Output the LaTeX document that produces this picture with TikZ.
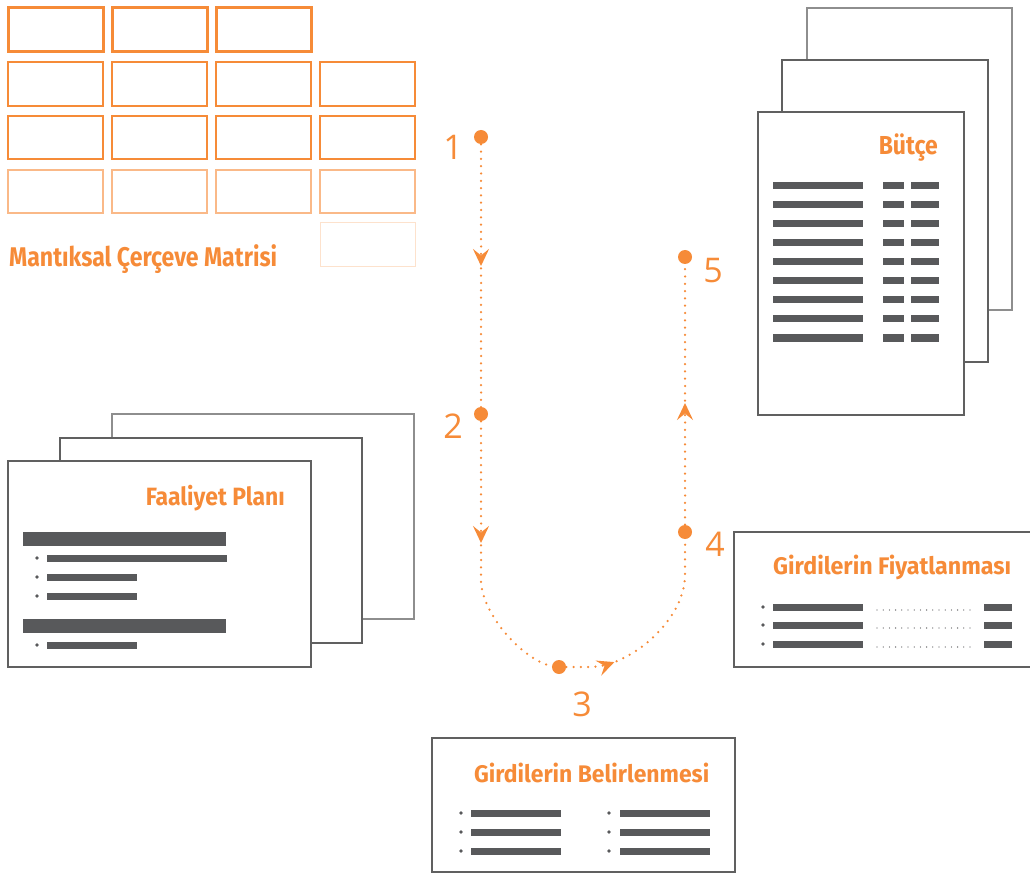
\documentclass[tikz,border=0pt]{standalone}
\usepackage{fontspec}
\setmainfont{Fira Sans}
\newfontfamily\numfont{Open Sans}
\usetikzlibrary{arrows.meta,decorations.markings}

\definecolor{accent}{HTML}{F68B38}
\definecolor{ink}{HTML}{58595B}
\definecolor{frame}{HTML}{606060}
\definecolor{framelight}{HTML}{8E8E8E}

% set a text at its natural height, squeezed horizontally to a given width (pt)
\newsavebox\fitbox
\newlength\fitlen
\newcommand\fitwidth[2]{\sbox\fitbox{#2}\setlength\fitlen{\wd\fitbox}%
  \pgfmathsetmacro\fitratio{#1/\fitlen}\scalebox{\fitratio}[1]{\usebox\fitbox}}

\tikzset{
  cellA/.style={draw=accent, line width=3pt},
  cellB/.style={draw=accent, line width=2.4pt},
  cellC/.style={draw=accent, line width=1.5pt},
  cellD/.style={draw=accent, draw opacity=.6, line width=1.2pt},
  cellE/.style={draw=accent, draw opacity=.25, line width=1pt},
  pagefront/.style={draw=frame, fill=white, line width=2.6pt},
  pagemid/.style={draw=frame, fill=white, line width=1.8pt},
  pageback/.style={draw=framelight, fill=white, line width=1.2pt},
  title/.style={text=accent, inner sep=0pt, font=\bfseries},
  stepnum/.style={text=accent, inner sep=0pt, font=\numfont\fontsize{34}{34}\selectfont},
  stepdot/.style={circle, fill=accent, inner sep=0pt, minimum size=14pt},
  flow/.style={draw=accent, line width=2.5pt, line cap=round, dash pattern=on 0pt off 7.3pt},
  flowtip/.style={postaction={decorate, decoration={markings,
      mark=at position #1 with {\arrow[accent, solid]{Stealth[length=17pt,width=16pt,inset=6.5pt]}}}}},
  leader/.style={draw=ink, line width=1.3pt, line cap=round, dash pattern=on 0pt off 6.2pt},
}

\newcommand\inkbar[3]{\fill[ink] (#1,#3-3.5) rectangle (#2,#3+3.5);}
\newcommand\inkdot[2]{\fill[ink] (#1,#2) circle (1.8);}

\begin{document}
\begin{tikzpicture}[x=1pt,y=-1pt]
\useasboundingbox (0,0) rectangle (1030,874);

% ---------- logical framework matrix ----------
\foreach \x in {8,112,216} \draw[cellA] (\x,8) rectangle ++(95,44);
\foreach \x in {8,112,216,320} \draw[cellB] (\x,62) rectangle ++(95,44);
\foreach \x in {8,112,216,320} \draw[cellC] (\x,116) rectangle ++(95,43);
\foreach \x in {8,112,216,320} \draw[cellD] (\x,170) rectangle ++(95,43);
\draw[cellE] (320,223) rectangle ++(95,44);
\node[title, anchor=base west] (mcm) at (9,267)
  {\fontsize{27}{27}\selectfont\fitwidth{268}{Mantıksal Çerçeve Matrisi}};

% ---------- budget pages ----------
\draw[pageback] (807,8) rectangle (1012,310);
\draw[pagemid] (782,60) rectangle (988,362);
\draw[pagefront] (758,112) rectangle (964,415);
\node[title, anchor=base east] (butce) at (938,155)
  {\fontsize{26}{26}\selectfont\fitwidth{59}{Bütçe}};
\foreach \y in {186,205,...,339} {
  \inkbar{773}{863}{\y}
  \inkbar{883}{904}{\y}
  \inkbar{911}{939}{\y}
}

% ---------- activity plan pages ----------
\draw[pageback] (112,414) rectangle (414,619);
\draw[pagemid] (60,438) rectangle (362,643);
\draw[pagefront] (8,461) rectangle (311,667);
\node[title, anchor=base east] (plan) at (285,505)
  {\fontsize{25}{25}\selectfont\fitwidth{139}{Faaliyet Planı}};
\fill[ink] (23,532) rectangle (226,546);
\fill[ink] (23,619) rectangle (226,633);
\inkbar{47}{227}{558}
\inkbar{47}{137}{577}
\inkbar{47}{137}{596}
\inkbar{47}{137}{645}
\foreach \y in {558,577,596,645} {\inkdot{37}{\y}}

% ---------- pricing of inputs ----------
\draw[pagefront] (734,532) rectangle (1036,667);
\node[title, anchor=base west] (fiyat) at (773,574)
  {\fontsize{24}{24}\selectfont\fitwidth{238}{Girdilerin Fiyatlanması}};
\foreach \y in {607,625,644} {
  \inkdot{763}{\y}
  \inkbar{773}{863}{\y}
  \inkbar{984}{1012}{\y}
  \draw[leader] (877,\y+3) -- (971,\y+3);
}

% ---------- identification of inputs ----------
\draw[pagefront] (432,738) rectangle (735,872);
\node[title, anchor=base west] (belir) at (474,782)
  {\fontsize{24}{24}\selectfont\fitwidth{235}{Girdilerin Belirlenmesi}};
\foreach \y in {813,832,851} {
  \inkdot{461}{\y}
  \inkbar{471}{561}{\y}
  \inkdot{609}{\y}
  \inkbar{620}{710}{\y}
}

% ---------- process path ----------
\coordinate (p1) at (481,137);
\coordinate (p2) at (481,414);
\coordinate (p3) at (559,667);
\coordinate (p4) at (685,532);
\coordinate (p5) at (685,257);

\draw[flow, flowtip=129pt] (p1) -- (p2);
\draw[flow, flowtip=129pt] (p2) -- (481,580) .. controls (481,615) and (528,667) .. (p3);
\draw[flow, flowtip=56pt] (p3) -- (590,667) .. controls (630,667) and (685,620) .. (685,575) -- (p4);
\draw[flow, flowtip=129pt] (p4) -- (p5);

\node[stepdot] (d1) at (p1) {};
\node[stepdot] (d2) at (p2) {};
\node[stepdot] (d3) at (p3) {};
\node[stepdot] (d4) at (p4) {};
\node[stepdot] (d5) at (p5) {};

\node[stepnum, anchor=base] (n1) at (453,160) {1};
\node[stepnum, anchor=base] (n2) at (453,438) {2};
\node[stepnum, anchor=base] (n3) at (582,716) {3};
\node[stepnum, anchor=base] (n4) at (715,556) {4};
\node[stepnum, anchor=base] (n5) at (713,283) {5};
\end{tikzpicture}
\end{document}
